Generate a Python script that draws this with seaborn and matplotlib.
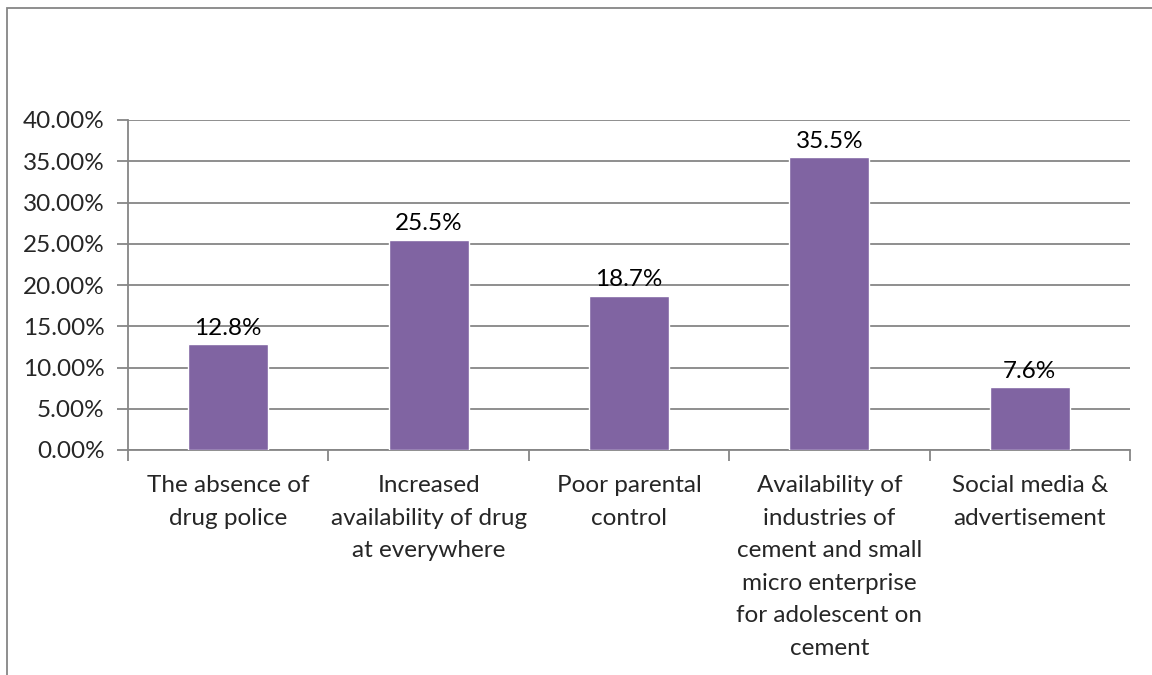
import matplotlib
matplotlib.use("Agg")
import matplotlib.pyplot as plt
import seaborn as sns
import pandas as pd
from matplotlib.patches import Rectangle

categories = [
    "The absence of\ndrug police",
    "Increased\navailability of drug\nat everywhere",
    "Poor parental\ncontrol",
    "Availability of\nindustries of\ncement and small\nmicro enterprise\nfor adolescent on\ncement",
    "Social media &\nadvertisement",
]
values = [12.8, 25.5, 18.7, 35.5, 7.6]
value_labels = ["12.8%", "25.5%", "18.7%", "35.5%", "7.6%"]
yticks = [0, 5, 10, 15, 20, 25, 30, 35, 40]
ytick_labels = ["0.00%", "5.00%", "10.00%", "15.00%", "20.00%", "25.00%", "30.00%", "35.00%", "40.00%"]

sns.set_theme(style="white")
plt.rcParams['font.family'] = ['Lato', 'DejaVu Sans']

W, H = 1152, 675
fig = plt.figure(figsize=(W / 100, H / 100), dpi=100)
ax = fig.add_axes([128 / W, 1 - 450 / H, (1130 - 128) / W, (450 - 120) / H])

df = pd.DataFrame({"cat": categories, "val": values})
sns.barplot(data=df, x="cat", y="val", color="#8064A2", saturation=1, width=0.4, ax=ax, zorder=3)

gray = "#868686"
fs = 17.5
ax.set_ylim(0, 40)
ax.set_xlim(-0.5, 4.5)
ax.set_yticks(yticks)
ax.set_yticklabels(ytick_labels, fontsize=fs)
ax.yaxis.grid(True, color=gray, linewidth=1.3, zorder=0)
ax.set_axisbelow(True)
ax.set_xlabel("")
ax.set_ylabel("")

# x ticks at category boundaries
ax.set_xticks([-0.5, 0.5, 1.5, 2.5, 3.5, 4.5], minor=False)
ax.set_xticklabels([])
ax.set_xticks(range(len(categories)), minor=True)
ax.set_xticklabels(categories, minor=True, fontsize=fs, linespacing=1.68)
ax.tick_params(axis="x", which="major", direction="out", length=8, width=1.3, color=gray, bottom=True)
ax.tick_params(axis="x", which="minor", length=0, pad=18, bottom=True)
ax.tick_params(axis="y", direction="out", length=8, width=1.3, color=gray, left=True, pad=9)

for s in ["top", "right"]:
    ax.spines[s].set_visible(False)
for s in ["left", "bottom"]:
    ax.spines[s].set_color(gray)
    ax.spines[s].set_linewidth(1.3)

for i, (v, lab) in enumerate(zip(values, value_labels)):
    ax.annotate(lab, (i, v), xytext=(0, 4), textcoords="offset points",
                ha="center", va="bottom", fontsize=fs, color="black")

fig.patches.append(Rectangle((7 / W, -0.1), 1.2, (1 - 8 / H) + 0.1, transform=fig.transFigure,
                             fill=False, edgecolor=gray, linewidth=1.3))

fig.savefig("out.png", dpi=100, facecolor="white")
